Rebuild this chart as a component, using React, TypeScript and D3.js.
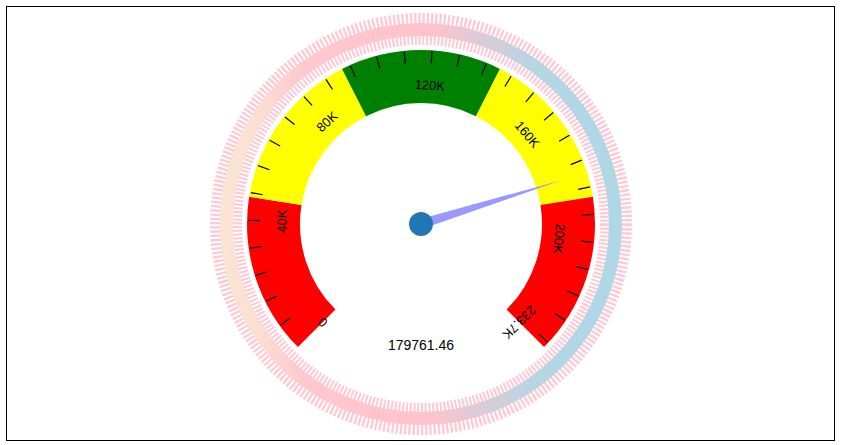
import React from "react";
import * as d3 from "d3";

// Gauge reading and range
const gaugeValue = 179761.46;
const gaugeMin = 0;
const gaugeMax = 233690;

// Colour bands as fractions of the range
const bandStops = [0, 0.2, 0.4, 0.6, 0.8, 1];
const bandColors = ["#ff0000", "#ffff00", "#008000", "#ffff00", "#ff0000"];

// Labelled values around the dial
const labelValues = [0, 40000, 80000, 120000, 160000, 200000, 233690];
const labelTexts = ["0", "40K", "80K", "120K", "160K", "200K", "233.7K"];

// Minor tick step
const tickStep = 8000;

const W = 843;
const H = 445;
const cx = 421;
const cy = 224;

export default function App() {
  const angle = d3.scaleLinear().domain([gaugeMin, gaugeMax]).range([-135, 135]);
  const rad = (v: number) => (angle(v) * Math.PI) / 180;

  const bandInner = 121;
  const bandOuter = 174;
  const arc = d3.arc<{ a0: number; a1: number }>()
    .innerRadius(bandInner)
    .outerRadius(bandOuter)
    .startAngle((d) => d.a0)
    .endAngle((d) => d.a1);

  const bands = bandColors.map((c, i) => ({
    color: c,
    a0: rad(gaugeMin + bandStops[i] * (gaugeMax - gaugeMin)),
    a1: rad(gaugeMin + bandStops[i + 1] * (gaugeMax - gaugeMin)),
  }));

  const ticks = d3.range(tickStep, gaugeMax, tickStep);
  const polar = (a: number, r: number): [number, number] => [
    cx + r * Math.sin(a),
    cy - r * Math.cos(a),
  ];

  const na = rad(gaugeValue);
  const tip = polar(na, 147);
  const b1 = polar(na - Math.PI / 2, 5);
  const b2 = polar(na + Math.PI / 2, 5);
  const needlePath = `M${b1[0]},${b1[1]}L${tip[0]},${tip[1]}L${b2[0]},${b2[1]}Z`;

  const font = "'Liberation Sans', Arial, sans-serif";

  return (
    <svg
      width={W}
      height={H}
      style={{ position: "absolute", left: 0, top: 0, display: "block" }}
    >
      <defs>
        <linearGradient id="ringGrad" gradientUnits="userSpaceOnUse" x1={210} y1={0} x2={631} y2={0}>
          <stop offset="0" stopColor="#fae6d1" />
          <stop offset="0.1" stopColor="#fbe1d4" />
          <stop offset="0.22" stopColor="#ffc8ce" />
          <stop offset="0.52" stopColor="#ffc2cc" />
          <stop offset="0.78" stopColor="#b3d6e4" />
          <stop offset="1" stopColor="#add8e6" />
        </linearGradient>
      </defs>
      <rect x={6.5} y={6.5} width={828} height={434} fill="#fff" stroke="#000" strokeWidth={1} />

      {/* outer decorative ring */}
      <circle
        cx={cx}
        cy={cy}
        r={195}
        fill="none"
        stroke="#ffc0cb"
        strokeOpacity={0.85}
        strokeWidth={32}
        strokeDasharray="2.2 1.8"
      />
      <circle cx={cx} cy={cy} r={194.5} fill="none" stroke="url(#ringGrad)" strokeWidth={13} />

      {/* colour bands */}
      <g transform={`translate(${cx},${cy})`}>
        {bands.map((b, i) => (
          <path key={i} d={arc(b) || ""} fill={b.color} />
        ))}
      </g>

      {/* ticks */}
      {ticks.map((t) => {
        const a = rad(t);
        const p0 = polar(a, 161);
        const p1 = polar(a, 173);
        return (
          <line key={t} x1={p0[0]} y1={p0[1]} x2={p1[0]} y2={p1[1]} stroke="#000" strokeWidth={1.2} />
        );
      })}

      {/* labels */}
      {labelValues.map((v, i) => {
        const a = rad(v);
        const p = polar(a, 139);
        return (
          <text
            key={i}
            x={p[0]}
            y={p[1]}
            textAnchor="middle"
            dominantBaseline="central"
            transform={`rotate(${angle(v)},${p[0]},${p[1]})`}
            fontFamily={font}
            fontSize={13}
            fill="#000"
          >
            {labelTexts[i]}
          </text>
        );
      })}

      {/* needle */}
      <path d={needlePath} fill="#9999ff" />
      <circle cx={cx} cy={cy} r={12} fill="#1f77b4" />

      <text x={cx} y={350} textAnchor="middle" fontFamily={font} fontSize={14} fill="#000">
        {d3.format(".2f")(gaugeValue)}
      </text>
    </svg>
  );
}
